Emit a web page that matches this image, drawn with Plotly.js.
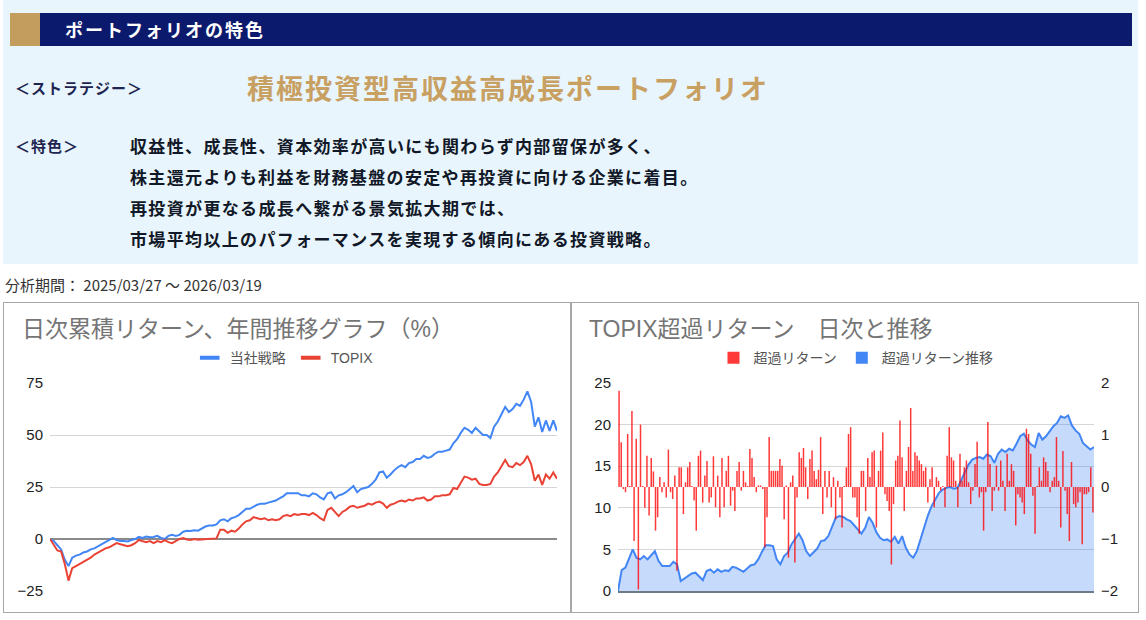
<!DOCTYPE html>
<html><head><meta charset="utf-8">
<script src="https://cdn.plot.ly/plotly-3.0.1.min.js"></script>
<style>
body{margin:0;background:#fff;font-family:"Noto Sans CJK JP","Noto Sans",sans-serif;width:1146px;height:620px;overflow:hidden;position:relative}
.abs{position:absolute;white-space:nowrap}
#panel{position:absolute;left:3px;top:0;width:1135px;height:264px;background:#e9f5fd}
#bar{position:absolute;left:10px;top:13px;width:1122px;height:33px;background:#0b1a6c}
#gold{position:absolute;left:10px;top:13px;width:30px;height:33px;background:#c39d5e}
.box{position:absolute;top:302px;width:566px;height:309px;border:1px solid #a8a8a8;background:#fff}
</style></head><body>
<div id="panel"></div><div id="bar"></div><div id="gold"></div>
<div class="abs" style="left:65px;top:16px;color:#fff;font-size:18px;font-weight:bold;letter-spacing:2px;line-height:26px">ポートフォリオの特色</div>
<div class="abs" style="left:15px;top:78px;color:#1d2550;font-size:15px;line-height:20px;font-weight:bold;letter-spacing:1px">＜ストラテジー＞</div>
<div class="abs" style="left:247px;top:70px;color:#c8a062;font-size:27px;font-weight:bold;letter-spacing:2px;line-height:36px">積極投資型高収益高成長ポートフォリオ</div>
<div class="abs" style="left:15px;top:136px;color:#1d2550;font-size:15px;line-height:20px;font-weight:bold;letter-spacing:1px">＜特色＞</div>
<div class="abs" style="left:130px;top:130px;color:#111827;font-size:17px;font-weight:bold;letter-spacing:1.35px;line-height:31px">収益性、成長性、資本効率が高いにも関わらず内部留保が多く、<br>株主還元よりも利益を財務基盤の安定や再投資に向ける企業に着目。<br>再投資が更なる成長へ繋がる景気拡大期では、<br>市場平均以上のパフォーマンスを実現する傾向にある投資戦略。</div>
<div class="abs" style="left:5px;top:275px;color:#333;font-size:15px;line-height:20px">分析期間： 2025/03/27 ～ 2026/03/19</div>
<div class="box" style="left:3px"><div id="c1" style="width:566px;height:309px"></div></div>
<div class="box" style="left:571px"><div id="c2" style="width:566px;height:309px"></div></div>
<script>
// 左: 日次累積リターン (%)
const strategyCum = [0,-1,-3,-5,-10,-13,-9,-8,-7.5,-6.5,-6,-5,-4.5,-3.5,-2.5,-1.5,-0.5,0.5,-0.5,-1,
 -1,-1.2,-0.5,0,1,0.5,1.2,0.8,1,1.5,0.5,0,1.5,2,1.5,2,3.5,4,3.8,4.2,
 4,5,6,6.5,6.5,7,9,9.5,8.5,10,10.5,11.5,13,14.5,14.5,15.5,16.5,17,17,17.5,
 18,18.5,19.5,20.5,22,22,22,22,21,21,20.5,22,21.5,20,19,22,22.5,19.5,21,21.5,
 22.5,24,25.5,22.5,24,24.5,25,26.5,28.5,32,32.5,29.5,31,33,34.5,35.5,34.5,36.5,37,38.5,
 38.5,40,39,39.5,41,42,42,42.5,43,46,48,51,53.5,52.5,51,53.5,51.5,50,50,48.5,
 54,56.5,60,63.5,61,62.5,65,64,67,71,66,54,58.5,51.5,57,52,57,52];
const topixCum = [0,-3,-5.5,-6,-12,-20,-14,-13,-12,-11,-10,-9,-7.5,-6.5,-5.5,-4.5,-4,-3,-2,-2.5,
 -3,-3.5,-3,-2,-0.5,-1,-1.5,-1,-2,-1,-1.5,-0.5,-1.5,-2,-1,0,0.5,-0.2,-0.5,0,
 -0.3,-0.2,0,0,0.2,0.3,4.5,4.5,3,4,3.5,5,7,8.5,9,10.5,10,9.5,10,9,
 9.5,9,9.5,11,11.5,11,12,11.5,12,12,11.5,12.5,11.5,10,9,14,15,13,11,13,
 14,15.5,16,15,15.5,16,17,16.5,17.5,18,17,15,16.5,17,18,18.5,18,19,18.5,19.5,
 19.5,20,18.5,19,20.5,20.5,21,21,21.5,24.5,24,27,30,29.5,28.5,29,26.5,26,26,26.5,
 30,32,35,38,35,34.5,36.5,35.5,37,40,36,28,31,26,31,29,32,29];
const leftTicks = [-25,0,25,50,75];

// 右: TOPIX超過リターン
const excessCum = [0,2.5,2.8,3.8,5,4,3.8,4.2,3.8,4.3,4.8,3.6,3,3,3,3.5,3.2,1.2,1.5,1.8,
 2.1,2.2,1.8,1.3,2.4,2.6,2.2,2.6,2.3,2.5,2.4,2.9,2.8,2.6,2.3,2.7,3.1,3.2,3.8,4.7,
 5.5,5.5,5.4,3.8,3.2,4.2,4.6,5.6,6.3,6.9,6.1,4.8,4.2,4.6,5.1,6,6.1,6.6,7.6,8.8,
 9,8.9,8.6,8.4,7.9,7.4,6.9,7.6,8.9,8.2,7.1,6.4,6.1,6.2,5.9,6.5,5.7,6.6,5.2,4.4,
 4,4.8,6.2,7.7,9.1,10.2,11.1,11.8,12.2,12.4,12.5,12.3,12.4,13.3,14.2,15.2,15.8,16,16.1,15.9,
 16.4,16.2,15.4,16.5,17,16.7,17.1,16.9,17.7,18.6,18.9,18.1,17.6,17.3,19,18.2,18.6,19.2,19.8,20.2,
 21,20.8,21.1,19.9,19.3,18.9,17.8,17.4,17,17.3];
const excessDaily = [1.85,0.86,-0.04,-0.1,1.02,0.02,1.46,-1.04,0.93,-1.97,1.2,0.02,-0.4,0.6,-0.55,0.56,0.3,-0.84,-0.58,0.19,
 -0.1,0.09,-0.2,0.72,-0.1,-0.23,0.22,-1.61,0.38,0.38,-0.52,0.09,0.38,0.48,0.02,-0.26,-0.84,0.6,0.7,-0.3,
 0.22,0.5,-0.3,-0.2,0.59,-0.39,0.22,-0.58,0.56,-0.39,0.31,0.6,-0.36,-0.07,-0.46,0.31,0.48,-0.07,0.31,0.09,
 0.02,0.73,0.56,0.19,-0.1,0.03,0.03,-0.04,-1.16,-0.58,0.96,0.31,0.31,0.31,0.31,0.54,0.41,-0.62,0.03,-1.36,
 0.09,0.22,-1.45,-0.2,0.67,0.56,0.75,0.38,-0.23,0.54,0.7,0.31,0.15,0.33,0.96,-0.52,0.31,-0.2,0.31,-0.39,
 0.19,-0.62,0.12,-0.2,-0.78,0.02,0.38,1.02,1.15,-0.2,-0.2,-0.58,-0.9,0.31,
 0.31,-0.46,0.56,0.19,0.67,0.7,-0.78,0.31,0.7,1.05,-0.14,-0.27,-0.46,-1.49,-0.33,0.51,0.6,1.28,0.57,-0.46,
 0.31,0.77,1.52,0.31,0.67,0.6,0.51,0.44,0.31,0.38,-0.3,0.15,0.38,-0.39,0.19,0.12,-0.07,0.02,-0.39,0.6,
 1.15,0.57,0.51,0.12,-0.39,0.64,0.12,0.38,0.51,0.09,-0.33,-0.07,0.44,0.87,-0.2,-0.1,-0.84,-0.1,1.25,0.44,
 -0.46,-0.07,0.41,-0.07,0.51,0.12,-0.46,0.64,0.12,0.44,0.31,-0.74,-0.14,-0.2,-0.3,-0.52,1.12,1.02,0.64,-0.17,
 -0.9,0.02,0.38,0.12,0.57,0.48,0.31,-0.1,0.12,0.19,0.96,0.12,-0.78,0.69,-0.07,-0.52,-1.04,0.48,-0.33,-0.39,
 -0.3,-0.1,-1.1,-0.14,-0.14,-0.1,0.38,-0.49];
const cumTicks = [0,5,10,15,20,25];
const dailyTicks = [-2,-1,0,1,2];

const FONT = "Liberation Sans, Arial, Noto Sans CJK JP, sans-serif";
const BLUE = '#4285F4', RED = '#EA4335';
const idx = a => a.map((_, i) => i);
const legendDash = (name, color) => ({x:[null], y:[null], type:'scatter', mode:'markers', name:name,
  marker:{symbol:'line-ew-open', size:14, color:color, line:{color:color, width:4}}});

Plotly.newPlot('c1', [
  {x: idx(strategyCum), y: strategyCum, type:'scatter', mode:'lines', name:'当社戦略', line:{color:BLUE, width:2}, showlegend:false},
  {x: idx(topixCum), y: topixCum, type:'scatter', mode:'lines', name:'TOPIX', line:{color:RED, width:2}, showlegend:false},
  legendDash('当社戦略', BLUE), legendDash('TOPIX', RED)
], {
  width:566, height:309, margin:{l:46, r:13, t:80, b:21},
  paper_bgcolor:'#fff', plot_bgcolor:'#fff',
  font:{family:FONT, color:'#222', size:15},
  title:{text:'日次累積リターン、年間推移グラフ（%）', x:0.032, xanchor:'left', y:0.916, yanchor:'middle', font:{size:23, color:'#757575', family:FONT}},
  showlegend:true,
  legend:{orientation:'h', x:0.462, xanchor:'center', y:1.12, yanchor:'middle', font:{size:14, color:'#555'}, itemwidth:30},
  xaxis:{range:[0, strategyCum.length-1], showgrid:false, zeroline:false, showticklabels:false, ticks:''},
  yaxis:{range:[-25,75], tickvals:leftTicks, showgrid:true, gridcolor:'#d6d6d6', zeroline:true, zerolinecolor:'#8a8a8a', zerolinewidth:2, ticks:'', ticklabelstandoff:6},
}, {displayModeBar:false, staticPlot:true});

Plotly.newPlot('c2', [
  {x: idx(excessCum), y: excessCum, xaxis:'x', yaxis:'y', type:'scatter', mode:'lines', fill:'tozeroy', fillcolor:'rgba(66,133,244,0.30)', line:{color:BLUE, width:2}, name:'超過リターン推移', showlegend:false},
  {x: idx(excessDaily), y: excessDaily, xaxis:'x2', yaxis:'y2', type:'bar', name:'超過リターン', marker:{color:'rgba(255,0,0,0.78)', line:{width:0}}, base:0},
  {x:[null], y:[null], xaxis:'x2', yaxis:'y2', type:'bar', name:'超過リターン推移', marker:{color:BLUE}}
], {
  width:566, height:309, margin:{l:46, r:44, t:80, b:21},
  paper_bgcolor:'#fff', plot_bgcolor:'rgba(0,0,0,0)',
  font:{family:FONT, color:'#222', size:15},
  barmode:'overlay', bargap:0.3,
  title:{text:'TOPIX超過リターン　日次と推移', x:0.03, xanchor:'left', y:0.916, yanchor:'middle', font:{size:23, color:'#757575', family:FONT}},
  showlegend:true,
  legend:{orientation:'h', x:0.5, xanchor:'center', y:1.12, yanchor:'middle', font:{size:14, color:'#555'}},
  xaxis:{range:[0, excessCum.length-1], showgrid:false, zeroline:false, showticklabels:false, ticks:'', showline:true, linecolor:'#6f7a88', linewidth:2},
  xaxis2:{overlaying:'x', range:[-0.5, excessDaily.length-0.5], showgrid:false, zeroline:false, showticklabels:false, ticks:''},
  yaxis:{range:[0,25], tickvals:cumTicks, showgrid:true, gridcolor:'#d6d6d6', zeroline:false, ticks:'', ticklabelstandoff:6},
  yaxis2:{overlaying:'y', side:'right', range:[-2,2], tickvals:dailyTicks, showgrid:false, zeroline:false, ticks:'', ticklabelstandoff:6}
}, {displayModeBar:false, staticPlot:true});
</script>
</body></html>
